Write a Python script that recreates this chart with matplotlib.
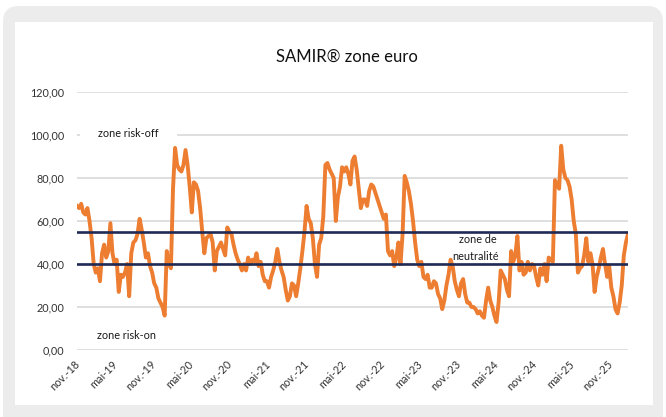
import matplotlib
matplotlib.use("Agg")
import matplotlib.pyplot as plt
import pandas as pd
from matplotlib.patches import FancyBboxPatch, Rectangle

plt.rcParams['font.family'] = ['Lato', 'DejaVu Sans']

# ---------------- data ----------------
start_date = "2018-10-28"
step = "10D"
samir_values = [
    67, 66, 68, 64, 63, 66, 60, 52, 40, 36,
    38, 32, 45, 49, 43, 46, 59, 45, 40, 42,
    27, 35, 34, 36, 40, 25, 45, 50, 51, 54,
    61, 56, 50, 43, 45, 39, 36, 31, 29, 24,
    22, 20, 16, 46, 40, 38, 75, 94, 86, 84,
    83, 86, 93, 86, 76, 64, 78, 77, 74, 66,
    55, 45, 52, 53, 54, 50, 37, 46, 48, 50,
    47, 44, 57, 55, 54, 49, 45, 42, 40, 37,
    40, 37, 43, 40, 42, 41, 45, 39, 41, 35,
    32, 32, 29, 34, 37, 41, 47, 41, 37, 34,
    28, 23, 25, 31, 30, 25, 31, 38, 46, 55,
    67, 61, 59, 52, 40, 34, 49, 52, 62, 86,
    87, 84, 82, 80, 60, 71, 76, 85, 83, 85,
    82, 77, 88, 90, 84, 75, 66, 70, 70, 67,
    74, 77, 76, 73, 70, 67, 64, 61, 63, 46,
    44, 46, 39, 43, 50, 40, 54, 81, 78, 74,
    68, 60, 50, 42, 39, 41, 34, 33, 35, 29,
    29, 32, 31, 26, 24, 19, 23, 30, 35, 42,
    39, 32, 28, 25, 31, 33, 26, 22, 22, 20,
    20, 19, 17, 18, 16, 15, 23, 29, 23, 20,
    16, 13, 22, 37, 35, 33, 28, 25, 46, 41,
    44, 53, 37, 41, 35, 36, 41, 37, 40, 39,
    34, 30, 38, 35, 40, 32, 43, 42, 41, 79,
    77, 75, 95, 84, 80, 79, 76, 70, 60, 54,
    36, 38, 39, 44, 52, 41, 45, 40, 27, 34,
    38, 43, 47, 40, 34, 39, 29, 25, 19, 17,
    22, 30, 44, 50, 54,
]
upper_threshold = 55
lower_threshold = 40
tick_dates = ["2018-11-01", "2019-05-01", "2019-11-01", "2020-05-01", "2020-11-01",
              "2021-05-01", "2021-11-01", "2022-05-01", "2022-11-01", "2023-05-01",
              "2023-11-01", "2024-05-01", "2024-11-01", "2025-05-01", "2025-11-01"]
tick_labels = ["nov.-18", "mai-19", "nov.-19", "mai-20", "nov.-20", "mai-21", "nov.-21",
               "mai-22", "nov.-22", "mai-23", "nov.-23", "mai-24", "nov.-24", "mai-25",
               "nov.-25"]
y_ticks = [0, 20, 40, 60, 80, 100, 120]
title = "SAMIR® zone euro"

dates = pd.date_range(start_date, periods=len(samir_values), freq=step)

# ---------------- figure ----------------
W, H = 666, 417
fig = plt.figure(figsize=(W / 100, H / 100), dpi=100)
fig.patch.set_facecolor("white")

bg = fig.add_axes([0, 0, 1, 1], zorder=0)
bg.set_xlim(0, W)
bg.set_ylim(H, 0)
bg.axis("off")
bg.add_patch(FancyBboxPatch((3, 6), 660, 430, boxstyle="round,pad=0,rounding_size=16",
                            facecolor="#ececec", edgecolor="none"))
bg.add_patch(Rectangle((15, 22), 638, 383, facecolor="white", edgecolor="none"))

ax = fig.add_axes([77 / W, 1 - 350 / H, 551 / W, 258 / H], zorder=1)
ax.patch.set_alpha(0)

for y in y_ticks:
    ax.axhline(y, color="#d9d9d9", lw=1.2, zorder=1)

ax.add_patch(Rectangle((0.006, 0.815), 0.175, 0.05, transform=ax.transAxes,
                       facecolor="white", edgecolor="none", zorder=1.5))

ax.plot(dates, samir_values, color="#ED7D31", lw=2.8, zorder=3, solid_joinstyle="round")
ax.axhline(upper_threshold, color="#1f2a55", lw=1.9, zorder=4)
ax.axhline(lower_threshold, color="#1f2a55", lw=1.9, zorder=4)

ax.set_xlim(dates[0], dates[-1])
ax.set_ylim(0, 120)
ax.set_yticks(y_ticks)
ax.set_yticklabels([f"{v:.2f}".replace(".", ",") for v in y_ticks])
ax.set_xticks(pd.to_datetime(tick_dates))
ax.set_xticklabels(tick_labels, rotation=45, ha="right", va="center",
                   rotation_mode="anchor")
ax.tick_params(axis="y", length=0, pad=9, labelsize=7.8, labelcolor="#333333")
ax.tick_params(axis="x", length=0, pad=9, labelsize=7.8, labelcolor="#333333")
for s in ax.spines.values():
    s.set_visible(False)

txt_kw = dict(transform=ax.transAxes, ha="center", va="center", fontsize=7.8,
              color="#1a1a1a", zorder=5)
ax.text(0.093, 0.841, "zone risk-off", **txt_kw)
ax.text(0.090, 0.058, "zone risk-on", **txt_kw)
ax.text(0.727, 0.430, "zone de", **txt_kw)
ax.text(0.724, 0.364, "neutralité", **txt_kw)

fig.text(347 / W, 1 - 57 / H, title, ha="center", va="center", fontsize=12,
         color="#111111")

fig.savefig("out.png", dpi=100, facecolor=fig.get_facecolor())
